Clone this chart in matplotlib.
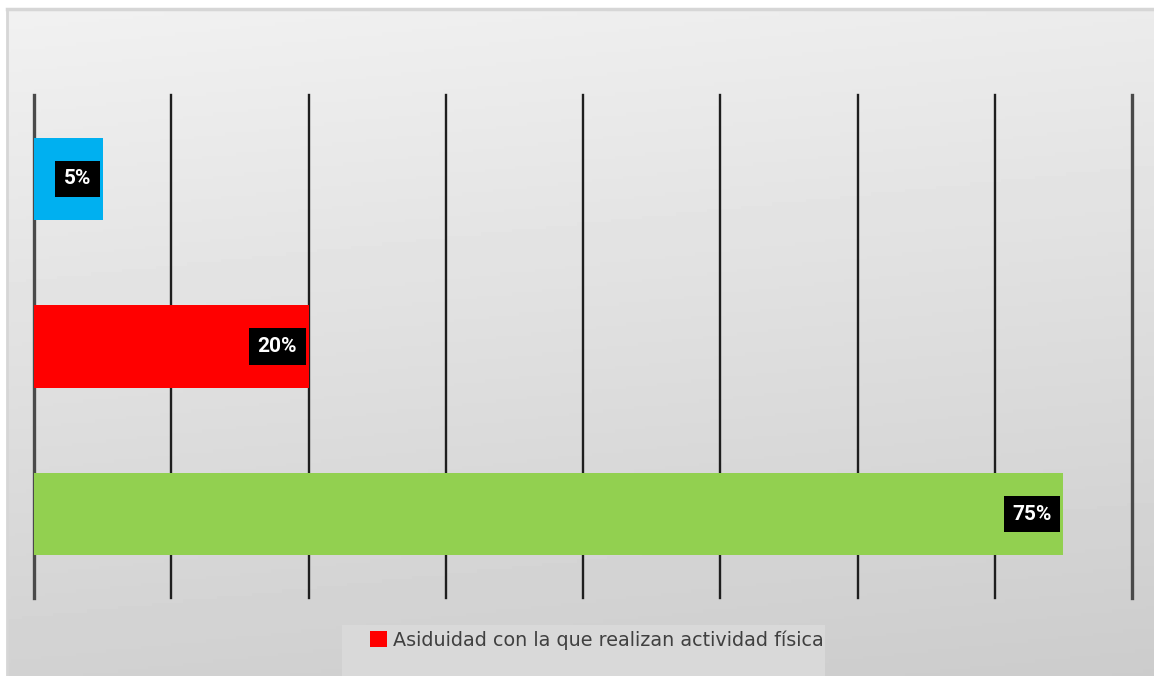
import numpy as np
import matplotlib
matplotlib.use("Agg")
import matplotlib.pyplot as plt
from matplotlib.patches import Patch, Rectangle

categories = ["C", "B", "A"]
values = [75, 20, 5]
colors = ["#92d050", "#ff0000", "#00b0f0"]
labels = ["75%", "20%", "5%"]
legend_label = "Asiduidad con la que realizan actividad física"

W, H = 1154, 676
fig = plt.figure(figsize=(W / 100, H / 100), dpi=100)
fig.patch.set_facecolor("white")

# gradient background
bg = fig.add_axes([7 / W, 0, 1 - 7 / W, (H - 9) / H])
yy, xx = np.mgrid[0:1:200j, 0:1:300j]
t = 0.85 * yy + 0.15 * xx
img = 0.945 - 0.145 * t
bg.imshow(img, cmap="gray", vmin=0, vmax=1, aspect="auto", extent=[0, 1, 0, 1], origin="upper")
bg.set_axis_off()
bg.plot([0, 1], [1, 1], transform=bg.transAxes, color="#d6d6d6", lw=2.5, clip_on=False)
bg.plot([0, 0], [0, 1], transform=bg.transAxes, color="#d6d6d6", lw=2, clip_on=False)

# legend background box
fig.patches.append(Rectangle((342 / W, 0), (825 - 342) / W, (H - 625) / H,
                             transform=fig.transFigure, facecolor="#d9d9d9",
                             edgecolor="none", zorder=1))

x0, x1 = 34, 1132
ytop, ybot = 95, 598
ax = fig.add_axes([x0 / W, (H - ybot) / H, (x1 - x0) / W, (ybot - ytop) / H])
ax.set_facecolor("none")
ax.set_xlim(0, 80)
ax.set_ylim(-0.5, 2.5)
for gx in range(0, 81, 10):
    c = "#4a4a4a" if gx in (0, 80) else "#1e1e1e"
    w = 2.4 if gx in (0, 80) else 1.7
    ax.axvline(gx, color=c, lw=w, zorder=1, clip_on=False)
ypos = np.arange(len(categories))
ax.barh(ypos, values, height=0.49, color=colors, zorder=2)
for y, v, lab in zip(ypos, values, labels):
    ax.annotate(lab, (v, y), xytext=(-8.4, 0), textcoords="offset points",
                ha="right", va="center", color="white", fontsize=15,
                fontweight="bold", family="Roboto", zorder=3,
                bbox=dict(boxstyle="square,pad=0.42", fc="black", ec="none"))
ax.set_xticks([])
ax.set_yticks([])
for s in ax.spines.values():
    s.set_visible(False)

leg = fig.legend(handles=[Patch(facecolor="#ff0000", edgecolor="none", label=legend_label)],
                 loc="center left", bbox_to_anchor=(366 / W, (H - 640) / H),
                 frameon=False, borderpad=0.2, handlelength=0.9, handleheight=0.9,
                 handletextpad=0.3, borderaxespad=0,
                 prop={"family": "DejaVu Sans", "size": 13.8})
for txt in leg.get_texts():
    txt.set_color("#404040")

fig.savefig("out.png", dpi=100, facecolor=fig.get_facecolor())
